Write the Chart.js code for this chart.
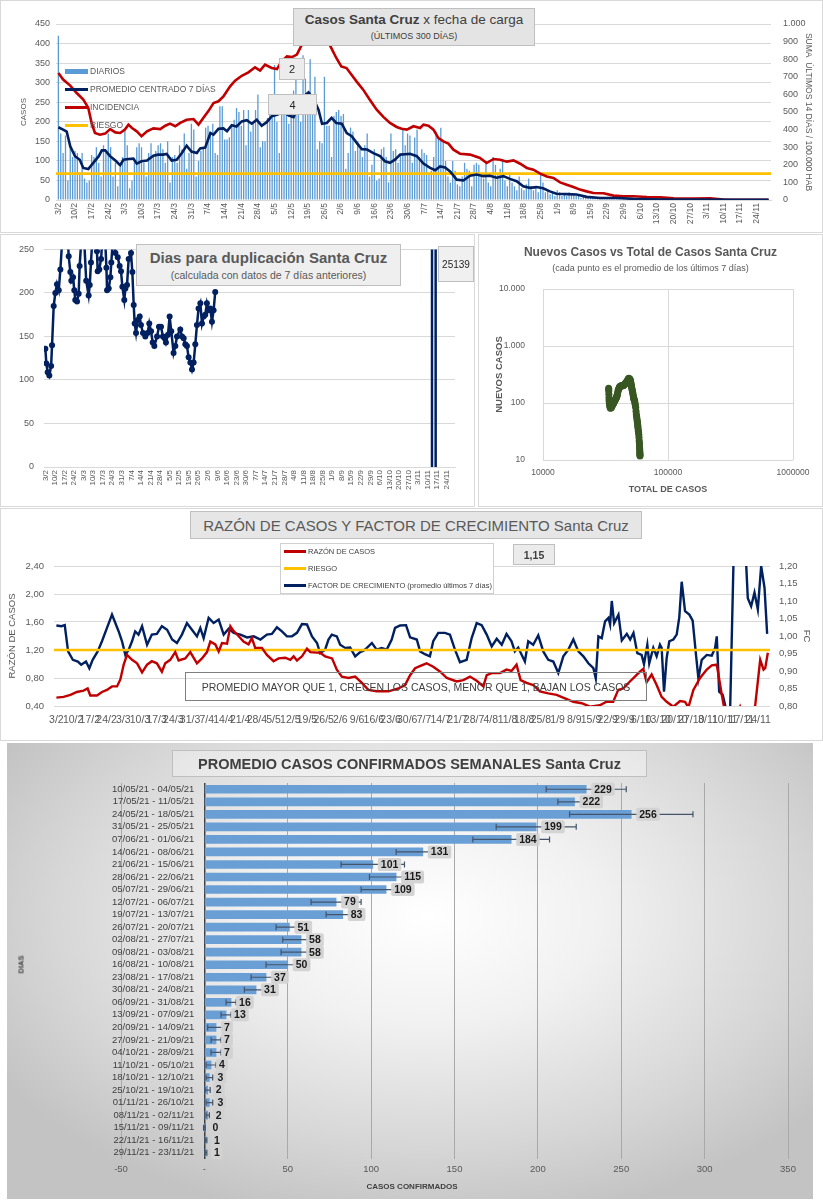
<!DOCTYPE html>
<html>
<head>
<meta charset="utf-8">
<script src="https://cdn.jsdelivr.net/npm/chart.js@4.4.0/dist/chart.umd.min.js"></script>
<style>
  body { margin: 0; width: 823px; height: 1200px; position: relative; background: #fff; overflow: hidden;
         font-family: 'Liberation Sans', Arial, sans-serif; }
  .panel { position: absolute; border: 1px solid #d9d9d9; box-sizing: border-box; }
  canvas { position: absolute; }
  .box { position: absolute; box-sizing: border-box; border: 1px solid #bfbfbf; background: #e7e7e7; white-space: nowrap;
         display: flex; flex-direction: column; align-items: center; justify-content: center; color: #404040; }
  .txt { position: absolute; white-space: nowrap; }
  .sw { position: absolute; }
</style>
</head>
<body>

<div class="panel" style="left:0;top:0;width:823px;height:233px"></div>
<div class="panel" style="left:0;top:234px;width:475px;height:273px"></div>
<div class="panel" style="left:478px;top:234px;width:345px;height:273px"></div>
<div class="panel" style="left:0;top:508px;width:823px;height:233px"></div>
<div class="panel" style="left:7px;top:743px;width:806px;height:456px;border:none;
     background:radial-gradient(ellipse 62% 68% at 52% 38%, #ffffff 0%, #f1f1f1 35%, #d6d6d6 75%, #c3c3c3 100%)"></div>

<canvas id="c1" width="823" height="232" style="left:0;top:0"></canvas>
<canvas id="c2" width="475" height="273" style="left:0;top:234px"></canvas>
<canvas id="c3" width="345" height="273" style="left:478px;top:234px"></canvas>
<canvas id="c4" width="823" height="232" style="left:0;top:508px"></canvas>
<canvas id="c5" width="806" height="456" style="left:7px;top:743px"></canvas>

<!-- panel 1 -->
<div class="box" style="left:293px;top:8px;width:242px;height:38px;background:#e4e4e4">
  <div style="font-size:13.5px;line-height:16px"><b>Casos Santa Cruz</b> x fecha de carga</div>
  <div style="font-size:9px;line-height:11px;margin-top:3px">(ÚLTIMOS 300 DÍAS)</div>
</div>
<div class="sw" style="left:65px;top:69px;width:23px;height:5px;background:#5b9bd5"></div>
<div class="txt" style="left:90px;top:66px;font-size:8.5px;color:#595959">DIARIOS</div>
<div class="sw" style="left:65px;top:88px;width:23px;height:3px;background:#002060"></div>
<div class="txt" style="left:90px;top:84px;font-size:8.5px;color:#595959">PROMEDIO CENTRADO 7 DÍAS</div>
<div class="sw" style="left:65px;top:106px;width:23px;height:3px;background:#c00000"></div>
<div class="txt" style="left:90px;top:102px;font-size:8.5px;color:#595959">INCIDENCIA</div>
<div class="sw" style="left:65px;top:124px;width:23px;height:3px;background:#ffc000"></div>
<div class="txt" style="left:90px;top:120px;font-size:8.5px;color:#595959">RIESGO</div>
<div class="box" style="left:279px;top:58px;width:26px;height:22px;background:#ececec;font-size:11px;color:#262626">2</div>
<div class="box" style="left:268px;top:94px;width:49px;height:21px;background:#ececec;font-size:11px;color:#262626">4</div>

<!-- panel 2 -->
<div class="box" style="left:136px;top:244px;width:265px;height:42px;background:#efefef;color:#595959">
  <div style="font-size:15px;line-height:17px;font-weight:bold">Dias para duplicación Santa Cruz</div>
  <div style="font-size:10.5px;line-height:12px;margin-top:3px">(calculada con datos de 7 días anteriores)</div>
</div>
<div class="box" style="left:438px;top:246px;width:36px;height:36px;background:#f0f0f0;font-size:10px;color:#262626">25139</div>

<!-- panel 3 -->
<div class="txt" style="left:478px;width:345px;top:245px;text-align:center;font-size:12px;font-weight:bold;color:#595959">Nuevos Casos vs Total de Casos Santa Cruz</div>
<div class="txt" style="left:478px;width:345px;top:263px;text-align:center;font-size:9px;color:#595959">(cada punto es el promedio de los últimos 7 días)</div>

<!-- panel 4 -->
<div class="box" style="left:190px;top:511px;width:452px;height:28px;background:#e6e6e6;color:#595959;font-size:15px">RAZÓN DE CASOS Y FACTOR DE CRECIMIENTO Santa Cruz</div>
<div class="box" style="left:280px;top:543px;width:214px;height:51px;background:#fff;border-color:#d0d0d0"></div>
<div class="sw" style="left:284px;top:550px;width:22px;height:3px;background:#c00000"></div>
<div class="txt" style="left:308px;top:547px;font-size:7.5px;color:#404040">RAZÓN DE CASOS</div>
<div class="sw" style="left:284px;top:567px;width:22px;height:3px;background:#ffc000"></div>
<div class="txt" style="left:308px;top:564px;font-size:7.5px;color:#404040">RIESGO</div>
<div class="sw" style="left:284px;top:584px;width:22px;height:3px;background:#002060"></div>
<div class="txt" style="left:308px;top:581px;font-size:7.5px;color:#404040">FACTOR DE CRECIMIENTO (promedio últimos 7 días)</div>
<div class="box" style="left:513px;top:544px;width:42px;height:21px;background:#ebebeb;font-size:10.5px;font-weight:bold">1,15</div>
<div class="box" style="left:185px;top:672px;width:462px;height:29px;background:transparent;border-color:#7f7f7f;font-size:10.5px">PROMEDIO MAYOR QUE 1, CRECEN LOS CASOS, MENOR QUE 1, BAJAN LOS CASOS</div>

<!-- panel 5 -->
<div class="box" style="left:172px;top:750px;width:475px;height:27px;background:rgba(255,255,255,0.35);font-size:14.5px;font-weight:bold">PROMEDIO CASOS CONFIRMADOS SEMANALES Santa Cruz</div>
<div class="txt" style="left:1px;top:960px;width:40px;text-align:center;font-size:7.5px;font-weight:bold;color:#404040;transform:rotate(-90deg)">DIAS</div>
<div class="txt" style="left:352px;top:1182px;width:120px;text-align:center;font-size:8px;font-weight:bold;color:#404040">CASOS CONFIRMADOS</div>

<script>
// eje semanal (día 0 = 3/2)
const weekLabels = ['3/2','10/2','17/2','24/2','3/3','10/3','17/3','24/3','31/3','7/4','14/4','21/4','28/4',
  '5/5','12/5','19/5','26/5','2/6','9/6','16/6','23/6','30/6','7/7','14/7','21/7','28/7','4/8','11/8','18/8',
  '25/8','1/9','8/9','15/9','22/9','29/9','6/10','13/10','20/10','27/10','3/11','10/11','17/11','24/11'];

// casos diarios, 300 días
const diarios = [
  420,170,120,165,50,140,110,
  125,120,70,120,55,45,50,
  115,110,135,95,60,140,120,
  170,135,60,95,35,85,110,
  180,140,30,50,105,135,145,
  135,95,60,120,145,115,125,
  140,145,130,95,150,45,110,
  115,95,140,130,170,80,120,
  195,180,60,100,125,135,185,
  190,175,195,120,115,240,240,
  155,155,160,190,205,235,225,
  190,230,140,230,175,200,230,
  270,135,150,150,210,235,215,
  345,200,120,225,240,220,195,
  230,280,330,250,200,370,310,
  230,360,240,315,130,150,145,
  315,190,190,110,215,225,230,
  215,220,80,120,185,175,125,
  150,130,110,140,170,60,90,
  130,50,55,130,135,110,45,
  170,125,130,95,115,180,140,
  170,165,95,160,180,110,130,
  120,115,70,75,110,175,160,
  185,150,100,60,45,100,75,
  40,35,60,95,80,75,35,
  90,95,90,60,55,100,45,
  35,110,90,65,80,105,50,
  35,70,45,35,25,60,30,
  25,40,55,35,25,30,20,
  70,45,20,25,15,20,10,
  25,20,10,15,10,20,15,
  15,10,12,5,8,10,5,
  8,5,3,6,4,5,3,
  6,4,3,5,3,4,2,
  4,2,3,2,5,2,1,
  3,2,1,2,3,1,2,
  2,1,1,2,1,0,1,
  1,2,1,0,1,1,0,
  1,0,2,1,0,1,1,
  0,1,1,0,2,0,1,
  0,0,1,0,0,1,0,
  1,0,0,2,1,0,1,
  1,2,1,0,1,1
];

// [día, promedio centrado 7 días]
const promedio7 = [[0,186],[2,180],[3.5,175],[5,137],[7,112],[9,103],[10.5,82],[12.6,79],[14.7,95],[17,112],
  [18.3,127],[19.7,127],[21.8,112],[24,101],[26,89],[27.4,103],[29.5,105],[31.6,106],[33,93],[35,99],[37.3,101],
  [40,113],[42,116],[44.2,116],[45.6,118],[47.7,101],[49.8,103],[52,120],[54,139],[56,124],[58.3,120],[59.7,132],
  [61.8,134],[64,171],[65.3,167],[67.4,182],[69.5,183],[71,176],[73,191],[75,188],[77.2,201],[79.3,204],[81.4,195],
  [83.5,205],[85.6,190],[87.7,199],[89.8,214],[92,218],[94.7,225],[97,216],[99,212],[101,240],[103,263],[105.3,275],
  [107.5,257],[109.5,231],[111,195],[113,197],[115,210],[117,197],[119.3,195],[121.4,171],[123.5,163],[125.6,146],
  [127.7,130],[130,129],[132.6,120],[135.4,112],[137.5,99],[139.6,95],[141.7,103],[143.9,116],[146,117],[148,118],
  [150.9,112],[153.7,93],[156.5,82],[158.6,76],[160.7,86],[162.8,83],[164.9,73],[167.7,52],[170.5,50],[173.3,62],
  [176.1,65],[178.9,61],[181.7,62],[184.5,57],[187.3,61],[190.1,54],[192.9,48],[195.7,35],[198.5,31],[201.3,33],
  [204.1,30],[206.9,22],[209.7,16],[213.9,15],[218.1,14],[222.4,8],[228,5],[235,5],[242,3],[249,2],[256,1],
  [270,1],[285,0.5],[299,0.5]];

// [día, incidencia 14 días / 100.000 hab]
const incidencia = [[0,722],[2,684],[5,650],[7.7,608],[10.5,570],[12.6,523],[14,437],[15.4,381],[17.5,371],
  [19.7,377],[21.8,403],[24,384],[26,381],[28,400],[29.5,428],[31,409],[33,390],[35,362],[37.3,390],[40,407],
  [42.9,403],[45,422],[47,434],[49.2,419],[51.3,438],[54,456],[56.9,460],[59,428],[61,466],[63.3,508],[65.3,551],
  [67.4,561],[69.5,589],[72.3,646],[74.4,678],[77.2,706],[80,725],[82.8,754],[84.9,735],[87,769],[89.8,750],
  [92,744],[94,788],[96.2,816],[98.3,812],[100.4,826],[102.5,883],[104.6,930],[107,975],[109,995],[111,990],
  [113,930],[114.4,877],[117,807],[119.1,759],[121.3,750],[123.4,712],[125.5,674],[128.3,627],[131.1,570],
  [134,513],[136.8,472],[139.6,438],[142.4,415],[144.5,405],[146.7,400],[149.5,419],[152.3,409],[153.7,428],
  [155.8,422],[157.9,400],[160,352],[162.1,333],[164.2,320],[166.3,286],[169.1,263],[173.3,258],[177.5,239],
  [180.3,210],[183.2,233],[186,229],[188.8,218],[191.6,225],[194.4,206],[197.2,182],[200,172],[202.8,150],
  [205.6,134],[208.4,125],[211.2,100],[214,87],[216.8,74],[219.6,59],[222.4,49],[225.2,40],[229.5,38],
  [233.7,25],[237.9,21],[242,21],[247.8,17],[253.4,15],[259,9],[267.4,8],[274.4,9],[280,2],[290,1],[299,1]];

const riesgoIncidencia = 150;

// días para duplicación
const dupDays = [0,0.7,1.7,2.9,4.2,4.9,6.1,7.3,8.5,9.8,11,13.5,16,17.1,18.3,19,20.3,21.2,21.9,23.2,24.4,25.1,
  27.5,29.9,31.7,32.5,33.4,35.5,37.8,38.3,39.5,40.8,43,44.7,45.2,46.4,47.6,48.3,49.8,51.3,53,54.4,55.4,56.4,
  57.8,58.6,59.8,61,62.7,63.7,64.7,65.4,66.4,67.6,69.1,70,71.5,73.2,74.9,76.1,77.4,78.6,79.8,81.8,83.2,84.7,
  86.1,87.4,88.3,89.8,91,92.2,93.9,95.2,96.4,98.8,100.1,101.3,102.5,103.7,104.9,106.2,107.4,108.6,109.8,111,
  112.2,113.5,114.7,115.9,117.1,118.3,119.5,120.8,122,123.2,124.4,200,283,284.5,286];
const dupValues = [136,119,109,105,116,140,185,200,210,203,227,290,275,242,224,214,218,203,192,190,199,231,
  290,214,197,209,235,290,248,225,227,239,290,229,203,205,218,235,270,246,241,231,225,207,
  192,205,209,239,246,224,186,165,154,169,173,163,154,150,154,165,156,143,139,150,161,161,
  150,148,143,152,173,156,131,139,150,158,150,148,141,139,126,120,112,120,141,163,
  182,188,165,173,175,188,180,182,167,180,201,null,-3000,25139,-3000];

// nuevos casos vs total de casos
const totalCasos = [33500,33550,33600,33650,33700,33800,33900,34050,34200,34400,34600,34900,35200,35450,35700,
  36000,36300,36600,36900,37150,37400,37700,38000,38300,38600,38800,39000,39200,39400,39600,39800,40100,40400,
  40700,41000,41300,41600,41950,42300,42650,43000,43300,43600,43950,44300,44650,45000,45350,45700,46000,46300,
  46550,46800,47050,47300,47600,47900,48200,48500,48750,49000,49300,49600,49850,50100,50300,50500,50700,50900,
  51150,51400,51650,51900,52200,52500,52750,53000,53250,53500,53800,54100,54350,54600,54900,55200,55500,55800,
  56050,56300,56550,56800,57000,57200,57350,57500,57750,58000,58200,58400,58600,58800,58950,59100,59200,59300,
  59400,59500,59550,59600,59650,59700];
const nuevosCasos = [182,172,163,143,124,112,102,95,89,85,81,82,83,86,90,92,95,98,102,105,109,112,116,120,124,
  128,133,137,142,152,163,170,178,185,192,195,197,199,200,200,200,200,200,203,207,210,214,218,222,226,229,232,
  236,240,244,251,258,264,271,268,266,264,262,253,244,233,222,211,200,190,180,171,163,152,142,133,125,120,116,
  112,109,102,95,89,83,72,63,59,55,51,48,45,42,39,37,34,32,30,28,25,22,20,19,17,16,15,14,13.3,12.6,12.2,11.8];

// razón de casos [día, valor]
const razon = [[0,0.52],[3,0.53],[5.9,0.56],[8.6,0.60],[11.4,0.62],[13.1,0.65],[14.2,0.55],[17,0.55],[19.1,0.60],
  [21.2,0.63],[23.3,0.68],[25.4,0.68],[26.8,0.78],[28.2,0.99],[29.6,1.13],[31.7,1.06],[33.8,1.01],[35.9,0.88],
  [38,0.99],[40,1.04],[42.1,1.01],[44.2,0.89],[45.6,1.01],[47.7,1.06],[49.8,1.17],[51.2,1.05],[54,1.08],
  [56.1,1.17],[58.9,1.01],[61,1.08],[63.1,1.17],[64.5,1.32],[66.6,1.28],[68,1.18],[69.4,1.30],[71.5,1.29],
  [72.9,1.54],[74.3,1.47],[76.3,1.40],[78.4,1.32],[80.5,1.28],[81.9,1.37],[83.3,1.23],[86.1,1.23],[88.2,1.13],
  [91,1.04],[93.1,1.08],[95.9,1.09],[98,1.06],[99.4,1.11],[100.8,1.05],[102.9,1.11],[105,1.22],[106.4,1.17],
  [110.5,1.16],[112.6,1.11],[115.5,1.08],[117.5,0.92],[119.6,0.82],[122.4,0.80],[125.2,0.82],[128,0.73],
  [130.7,0.63],[134.2,0.61],[139.2,0.61],[143.3,0.65],[146.1,0.70],[148.2,0.84],[150.3,0.94],[152.3,0.97],
  [155.1,1.01],[157.9,0.96],[160.8,0.89],[163.6,0.80],[167.7,0.75],[170.5,0.77],[173.3,0.82],[176.1,0.76],
  [178.9,0.68],[180.3,0.84],[182.4,0.87],[185.9,0.87],[188.6,0.92],[190.7,0.90],[192.8,0.99],[194.5,0.77],
  [197,0.73],[199.8,0.70],[202.6,0.61],[206.1,0.58],[209.6,0.56],[213.1,0.51],[216.6,0.46],[220.1,0.44],
  [223.6,0.39],[227.7,0.41],[230.5,0.46],[233.3,0.46],[235.4,0.63],[237.5,0.65],[240.3,0.75],[242.4,0.82],
  [244.5,0.89],[245.9,0.93],[247.3,0.74],[249.4,0.85],[251.5,0.70],[253.6,0.53],[255.7,0.46],[258.5,0.39],
  [261.3,0.47],[263.4,0.46],[264.8,0.38],[266.9,0.63],[269.7,0.80],[272.5,0.92],[274.6,0.98],[276.7,0.99],
  [278.8,0.56],[280.2,0.30],[283,0.15],[285.5,0.30],[286.5,0.39],[287.5,0.30],[291,0.20],[292.8,0.41],
  [294.9,1.06],[296.3,0.92],[297,0.94],[298.1,1.16]];

const riesgoRazon = 1.20;

// factor de crecimiento (promedio últimos 7 días) [día, valor]
const factor = [[0,1.03],[2.1,1.028],[3.5,1.031],[4.9,0.956],[6.9,0.932],[9,0.927],[10.4,0.918],[12.4,0.927],
  [13.8,0.908],[15.2,0.932],[17.3,0.956],[19.1,0.985],[21.2,1.023],[23.3,1.061],[24.7,1.037],[26.1,1.013],
  [27.5,0.985],[28.9,0.946],[30.3,0.961],[31.7,0.985],[33,1.013],[34.4,1.004],[35.9,1.028],[38,0.975],[40,1.004],
  [42.1,1.006],[44.2,1.028],[46.4,1.018],[48.5,0.99],[50.5,0.98],[52.6,1.004],[54.7,1.037],[56.8,1.018],
  [58.9,0.999],[60.3,1.023],[61.7,0.994],[63.8,1.052],[65.9,1.037],[68,1.047],[70.1,1.004],[72.2,1.021],
  [74.3,1.009],[77.1,1.004],[79.9,0.996],[82.7,0.999],[85.5,0.99],[88.2,1.004],[90.3,1.006],[92.4,1.025],
  [94.5,1.013],[96.6,0.999],[98.7,0.999],[100.8,1.009],[102.9,1.034],[105,1.033],[107.1,0.999],[109.2,0.98],
  [110.5,0.951],[112.6,0.961],[114,0.99],[115.4,1.004],[117.5,0.999],[118.9,0.975],[121,0.966],[123.1,0.967],
  [125.2,0.942],[127.3,0.954],[128.7,0.958],[130.1,0.966],[132.2,0.98],[134.2,0.961],[136.3,0.966],[138.4,0.961],
  [140.5,0.99],[141.9,1.023],[144,1.03],[146.5,1.031],[148.2,0.996],[151,0.99],[152.4,0.956],[154.4,0.948],
  [156.5,0.942],[157.9,0.985],[160,1.009],[162.8,1.009],[164.9,1.004],[167,0.961],[169.1,0.925],[171.9,0.932],
  [174,0.994],[176.1,1.037],[178.2,1.031],[180.3,1.004],[182.4,0.97],[184.5,0.992],[186.6,0.975],[188.6,1.006],
  [190.7,0.985],[192.1,0.956],[193.5,0.967],[196.3,0.927],[197.7,0.985],[199.8,0.975],[201.9,1.002],[204,0.956],
  [206.1,0.932],[208.2,0.927],[210.3,0.894],[212.4,0.942],[214.5,0.961],[216.6,0.99],[218.7,0.956],[220.8,0.942],
  [222.9,0.922],[225,0.908],[226,0.879],[227.1,0.999],[228.5,0.994],[229.9,1.042],[231.3,1.052],[232,1.033],
  [232.7,1.10],[233.7,1.037],[235.5,1.061],[236.9,0.987],[239,1.006],[240.4,0.99],[241.8,1.009],[243.4,0.951],
  [245.2,0.946],[246.2,0.92],[247.6,0.975],[248.4,0.922],[250.1,0.966],[251.5,0.942],[252.9,0.975],[253.6,0.966],
  [254.6,0.841],[255.7,0.937],[256.8,0.985],[258.5,0.99],[259.9,1.004],[261,1.054],[262,1.155],[263.4,1.071],
  [265.2,1.061],[266.6,1.044],[268,0.946],[269,0.879],[270.4,0.932],[272.5,0.946],[274.6,0.944],[276,0.966],
  [276.7,0.999],[277.7,0.841],[279.2,0.832],[280.6,0.79],[282,0.70],[284.5,1.45],[288,1.35],[289.7,1.108],
  [291.1,1.085],[292.5,1.124],[293.9,1.076],[295.3,1.20],[296.7,1.138],[297.8,1.006]];

// promedio semanal
const semanas = ['10/05/21 - 04/05/21','17/05/21 - 11/05/21','24/05/21 - 18/05/21','31/05/21 - 25/05/21',
  '07/06/21 - 01/06/21','14/06/21 - 08/06/21','21/06/21 - 15/06/21','28/06/21 - 22/06/21','05/07/21 - 29/06/21',
  '12/07/21 - 06/07/21','19/07/21 - 13/07/21','26/07/21 - 20/07/21','02/08/21 - 27/07/21','09/08/21 - 03/08/21',
  '16/08/21 - 10/08/21','23/08/21 - 17/08/21','30/08/21 - 24/08/21','06/09/21 - 31/08/21','13/09/21 - 07/09/21',
  '20/09/21 - 14/09/21','27/09/21 - 21/09/21','04/10/21 - 28/09/21','11/10/21 - 05/10/21','18/10/21 - 12/10/21',
  '25/10/21 - 19/10/21','01/11/21 - 26/10/21','08/11/21 - 02/11/21','15/11/21 - 09/11/21','22/11/21 - 16/11/21',
  '29/11/21 - 23/11/21'];
const promedioSemanal = [229,222,256,199,184,131,101,115,109,79,83,51,58,58,50,37,31,16,13,7,7,7,4,3,2,3,2,0,1,1];
const errorSemanal = [24,10,37,24,23,16,19,16,15,15,10,8,11,12,13,9,7,3,3,5,3,3,3,2,1.5,2,1,0.5,0.5,0.5];

const GRID = '#d9d9d9';
const NAVY = '#002060';
const RED = '#c00000';
const YELLOW = '#ffc000';
const BLUE = '#5b9bd5';
const GREEN = '#385723';

Chart.defaults.font.family = "'Liberation Sans', Arial, sans-serif";
Chart.defaults.color = '#595959';
Chart.defaults.animation = false;
Chart.defaults.plugins.legend.display = false;
Chart.defaults.plugins.tooltip.enabled = false;

const fixW = w => s => { s.width = w; };
const fixH = h => s => { s.height = h; };
const pts = arr => arr.map(([x, y]) => ({x, y}));
const weekTicks = s => { s.ticks = weekLabels.map((l, i) => ({value: i * 7})); };
const weekLabel = (v, i) => weekLabels[i];
const miles = v => String(v).replace(/\B(?=(\d{3})+(?!\d))/g, '.');
const coma = v => v.toFixed(2).replace('.', ',');

// 1. casos diarios
new Chart(document.getElementById('c1'), {
    type: 'bar',
    data: {
        datasets: [
            {type: 'line', data: pts(promedio7), borderColor: NAVY, borderWidth: 2.6, pointRadius: 0, yAxisID: 'y', order: 1},
            {type: 'line', data: pts(incidencia), borderColor: RED, borderWidth: 2.6, pointRadius: 0, yAxisID: 'y1', order: 2},
            {type: 'line', data: [{x: -1, y: riesgoIncidencia}, {x: 300, y: riesgoIncidencia}], borderColor: YELLOW,
             borderWidth: 2.6, pointRadius: 0, yAxisID: 'y1', order: 3},
            {type: 'bar', data: diarios.map((v, i) => ({x: i, y: v})), backgroundColor: BLUE,
             barPercentage: 0.55, categoryPercentage: 1, yAxisID: 'y', order: 4}
        ]
    },
    options: {
        responsive: false,
        layout: {padding: {top: 24}},
        scales: {
            x: {type: 'linear', min: -1, max: 300, offset: false, afterBuildTicks: weekTicks, afterFit: fixH(32),
                grid: {display: false, drawTicks: false, offset: false}, border: {color: GRID},
                ticks: {autoSkip: false, minRotation: 90, maxRotation: 90, font: {size: 8.5}, padding: 3, callback: weekLabel}},
            y: {min: 0, max: 450, afterFit: fixW(56), border: {display: false},
                grid: {color: GRID, drawTicks: false}, ticks: {stepSize: 50, font: {size: 9}, padding: 6},
                title: {display: true, text: 'CASOS', font: {size: 8}, padding: {top: 19}}},
            y1: {position: 'right', min: 0, max: 1000, afterFit: fixW(52), border: {display: false},
                 grid: {display: false, drawTicks: false},
                 ticks: {stepSize: 100, font: {size: 9}, padding: 12, callback: miles},
                 title: {display: true, text: 'SUMA  ÚLTIMOS 14 DÍAS / 100.000 HAB', font: {size: 8.5}, padding: {top: 10}}}
        }
    }
});

// 2. días para duplicación
new Chart(document.getElementById('c2'), {
    type: 'line',
    data: {
        datasets: [{
            data: dupDays.map((d, i) => ({x: d, y: dupValues[i]})),
            borderColor: NAVY, borderWidth: 2.5, pointRadius: 3, pointBackgroundColor: NAVY,
            pointBorderWidth: 0, spanGaps: false
        }]
    },
    options: {
        responsive: false,
        layout: {padding: {top: 12, right: 20}},
        scales: {
            x: {type: 'linear', min: -1, max: 300, afterBuildTicks: weekTicks, afterFit: fixH(40),
                grid: {display: false, drawTicks: false}, border: {color: GRID},
                ticks: {autoSkip: false, minRotation: 90, maxRotation: 90, font: {size: 8}, padding: 3, callback: weekLabel}},
            y: {min: 0, max: 250, afterFit: fixW(44), border: {display: false},
                grid: {color: GRID, drawTicks: false}, ticks: {stepSize: 50, font: {size: 9}, padding: 10}}
        }
    }
});

// 3. nuevos casos vs total (log-log)
new Chart(document.getElementById('c3'), {
    type: 'scatter',
    data: {
        datasets: [{
            data: totalCasos.map((t, i) => ({x: t, y: nuevosCasos[i]})),
            backgroundColor: GREEN, borderColor: GREEN, pointRadius: 3.5, borderWidth: 0
        }]
    },
    options: {
        responsive: false,
        layout: {padding: {top: 55, right: 30}},
        scales: {
            x: {type: 'logarithmic', min: 10000, max: 1000000, afterFit: fixH(47),
                afterBuildTicks: s => { s.ticks = [10000, 100000, 1000000].map(value => ({value})); },
                grid: {color: GRID, drawTicks: false}, border: {display: false},
                ticks: {font: {size: 8.5}, padding: 8, callback: v => String(v)},
                title: {display: true, text: 'TOTAL DE CASOS', font: {size: 9, weight: 'bold'}, padding: {bottom: 12}}},
            y: {type: 'logarithmic', min: 10, max: 10000, afterFit: fixW(65),
                afterBuildTicks: s => { s.ticks = [10, 100, 1000, 10000].map(value => ({value})); },
                grid: {color: GRID, drawTicks: false}, border: {display: false},
                ticks: {font: {size: 8.5}, padding: 18, callback: miles},
                title: {display: true, text: 'NUEVOS CASOS', font: {size: 9.5, weight: 'bold'}, padding: {top: 16}}}
        }
    }
});

// 4. razón de casos y factor de crecimiento
new Chart(document.getElementById('c4'), {
    type: 'line',
    data: {
        datasets: [
            {data: pts(razon), borderColor: RED, borderWidth: 2.4, pointRadius: 0, yAxisID: 'y'},
            {data: [{x: -1, y: riesgoRazon}, {x: 299, y: riesgoRazon}], borderColor: YELLOW, borderWidth: 2.4, pointRadius: 0, yAxisID: 'y'},
            {data: pts(factor), borderColor: NAVY, borderWidth: 2.4, pointRadius: 0, yAxisID: 'y1'}
        ]
    },
    options: {
        responsive: false,
        layout: {padding: {top: 58}},
        scales: {
            x: {type: 'linear', min: -1, max: 299, afterBuildTicks: weekTicks, afterFit: fixH(34),
                grid: {display: false, drawTicks: false}, border: {display: false},
                ticks: {autoSkip: false, minRotation: 0, maxRotation: 0, font: {size: 10.5}, padding: 8, callback: weekLabel}},
            y: {min: 0.4, max: 2.4, afterFit: fixW(54), border: {display: false},
                grid: {color: GRID, drawTicks: false},
                ticks: {stepSize: 0.2, font: {size: 9.5}, padding: 10, callback: coma},
                title: {display: true, text: 'RAZÓN DE CASOS', font: {size: 9.5}, padding: {top: 7}}},
            y1: {position: 'right', min: 0.8, max: 1.2, afterFit: fixW(53), border: {display: false},
                 grid: {display: false, drawTicks: false},
                 ticks: {stepSize: 0.05, font: {size: 9.5}, padding: 9, callback: coma},
                 title: {display: true, text: 'FC', font: {size: 9.5}, padding: {top: 11}}}
        }
    }
});

// 5. promedio semanal con barras de error y etiquetas
const erroresYEtiquetas = {
    id: 'erroresYEtiquetas',
    afterDatasetsDraw(chart) {
        const {ctx, scales: {x, y}} = chart;
        ctx.save();
        ctx.strokeStyle = '#44546a';
        ctx.lineWidth = 1.2;
        promedioSemanal.forEach((v, i) => {
            const e = errorSemanal[i];
            const yc = y.getPixelForValue(i);
            const xa = x.getPixelForValue(v - e), xb = x.getPixelForValue(v + e);
            ctx.beginPath();
            ctx.moveTo(xa, yc); ctx.lineTo(xb, yc);
            ctx.moveTo(xa, yc - 3); ctx.lineTo(xa, yc + 3);
            ctx.moveTo(xb, yc - 3); ctx.lineTo(xb, yc + 3);
            ctx.stroke();
        });
        ctx.font = "bold 10.5px 'Liberation Sans', Arial, sans-serif";
        ctx.textBaseline = 'middle';
        ctx.textAlign = 'center';
        promedioSemanal.forEach((v, i) => {
            const yc = y.getPixelForValue(i);
            const label = String(v);
            const w = ctx.measureText(label).width + 6;
            const x0 = x.getPixelForValue(v) + 5;
            ctx.fillStyle = 'rgba(210,210,210,0.95)';
            ctx.beginPath();
            ctx.roundRect(x0, yc - 6.5, w, 13, 2);
            ctx.fill();
            ctx.fillStyle = '#1a1a1a';
            ctx.fillText(label, x0 + w / 2, yc + 0.5);
        });
        ctx.restore();
    }
};

new Chart(document.getElementById('c5'), {
    type: 'bar',
    data: {labels: semanas, datasets: [{data: promedioSemanal, backgroundColor: '#6a9fd6', barThickness: 8}]},
    options: {
        responsive: false,
        indexAxis: 'y',
        layout: {padding: {left: 114, top: 40, right: 25}},
        scales: {
            x: {min: -50, max: 350, afterFit: fixH(40), border: {display: false},
                grid: {color: c => c.tick && c.tick.value === 0 ? '#404040' : '#a9a9a9',
                       lineWidth: c => c.tick && c.tick.value === 0 ? 1.5 : 1, drawTicks: false},
                ticks: {stepSize: 50, font: {size: 9.5}, padding: 5, callback: v => v === 0 ? '-' : v}},
            // etiquetas a la izquierda del eje en 0 (ancladas 6 unidades antes)
            y: {position: {x: -6}, grid: {display: false, drawTicks: false}, border: {display: false},
                ticks: {autoSkip: false, font: {size: 9.5}, color: '#404040'}}
        }
    },
    plugins: [erroresYEtiquetas]
});
</script>
</body>
</html>
